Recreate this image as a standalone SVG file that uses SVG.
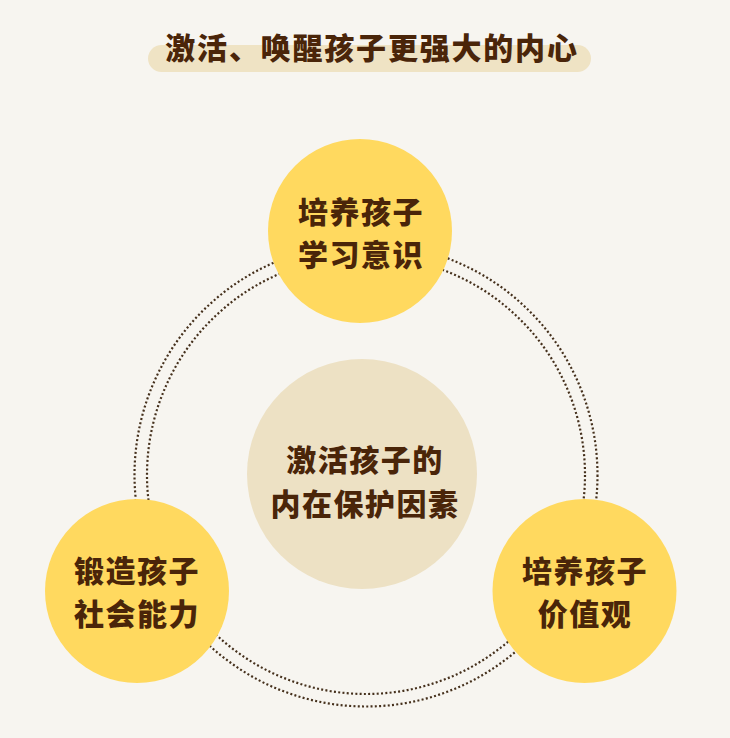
<svg xmlns="http://www.w3.org/2000/svg" width="730" height="738" viewBox="0 0 730 738">
  <style>
    .t { font-family: "Noto Sans CJK SC", "Noto Sans", sans-serif; font-weight: 900; fill: #4a2509; text-anchor: middle; dominant-baseline: central; }
    .n { font-size: 30px; letter-spacing: 1.5px; }
    .ring { fill: none; stroke: #45301c; stroke-width: 2.2; stroke-dasharray: 2 2.3; }
    .y { fill: #ffd95f; }
  </style>
  <rect x="0" y="0" width="730" height="738" fill="#f7f5f0"/>
  <g id="title">
    <rect x="148" y="45" width="443" height="27" rx="13.5" fill="#efe3c4"/>
    <text class="t" x="372" y="46" font-size="30" letter-spacing="1.8">激活、唤醒孩子更强大的内心</text>
  </g>
  <g id="connectors">
    <circle class="ring" cx="366" cy="475" r="219"/>
    <circle class="ring" cx="366" cy="475" r="231.5"/>
  </g>
  <g id="center">
    <circle cx="362" cy="474" r="115" fill="#ede1c4"/>
    <text class="t n" x="365" y="458">激活孩子的</text>
    <text class="t n" x="365" y="502">内在保护因素</text>
  </g>
  <g id="top">
    <circle class="y" cx="360" cy="231" r="92"/>
    <text class="t n" x="361" y="210">培养孩子</text>
    <text class="t n" x="361" y="253">学习意识</text>
  </g>
  <g id="left">
    <circle class="y" cx="137" cy="591" r="92"/>
    <text class="t n" x="137" y="569">锻造孩子</text>
    <text class="t n" x="137" y="612">社会能力</text>
  </g>
  <g id="right">
    <circle class="y" cx="584.5" cy="591" r="92"/>
    <text class="t n" x="585" y="569">培养孩子</text>
    <text class="t n" x="585" y="612">价值观</text>
  </g>
</svg>
